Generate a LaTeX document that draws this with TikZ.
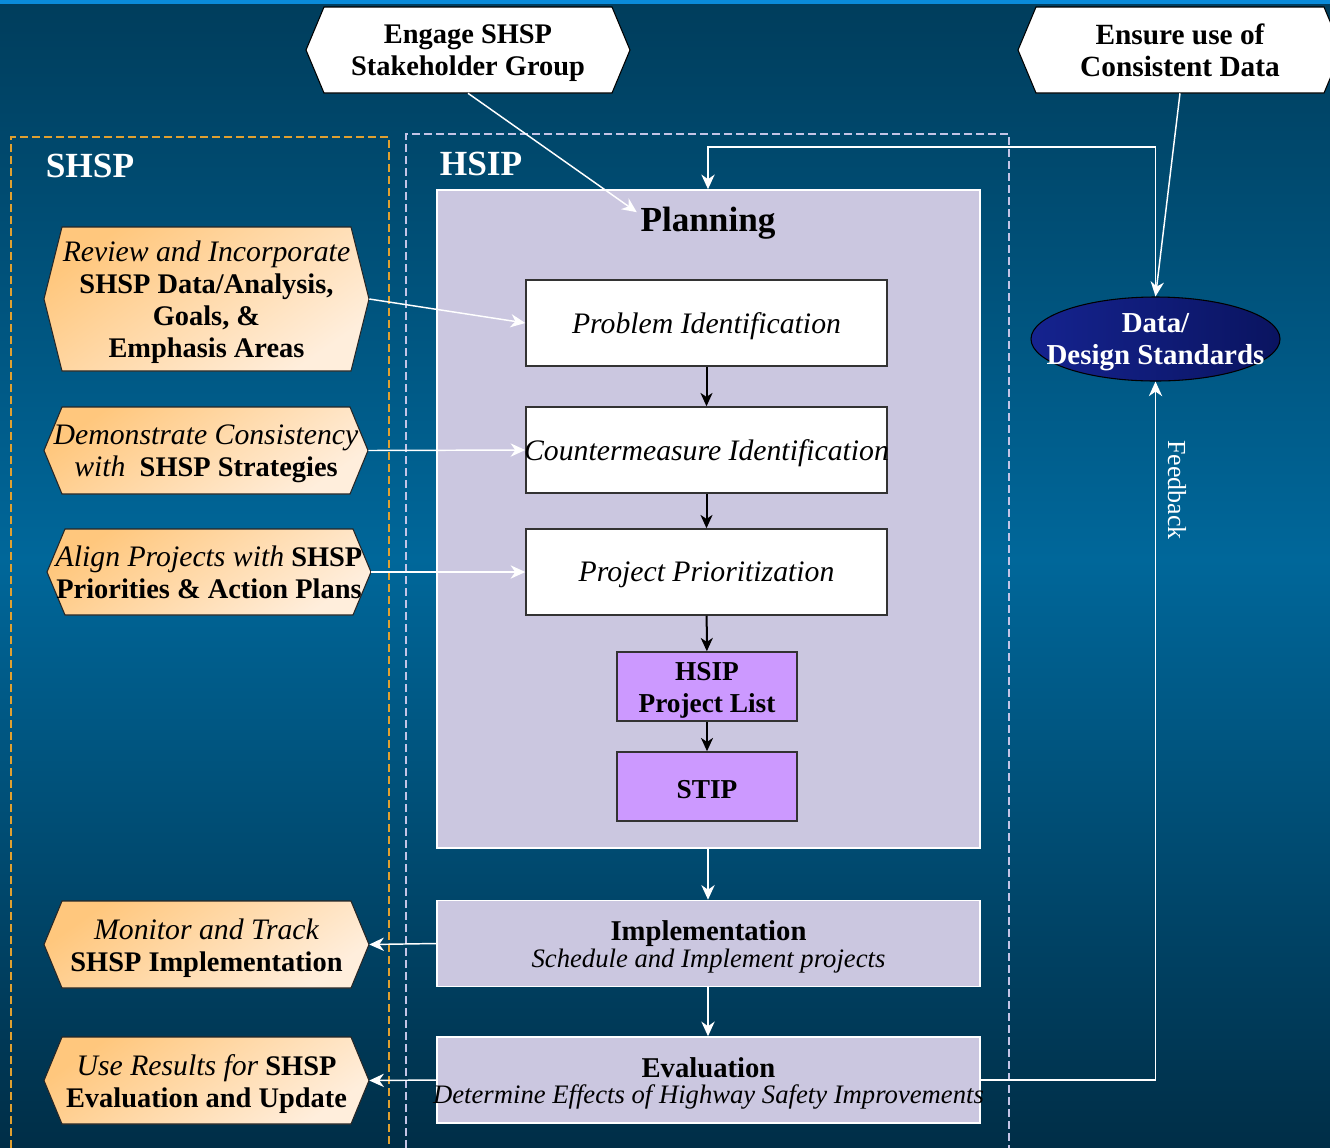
\documentclass[tikz,border=0pt]{standalone}
\usepackage{fontspec}
\setmainfont{Liberation Serif}
\usetikzlibrary{arrows.meta,shapes.geometric}

\definecolor{bgtop}{HTML}{003D5C}
\definecolor{bgmid}{HTML}{00679A}
\definecolor{bgbot}{HTML}{002E47}
\definecolor{topstrip}{HTML}{0A8BDA}
\definecolor{lav}{HTML}{CBC7E0}
\definecolor{purp}{HTML}{CC99FF}
\definecolor{orA}{HTML}{FFC77D}
\definecolor{orB}{HTML}{FFEEDC}
\definecolor{shspdash}{HTML}{E0A030}
\definecolor{hsipdash}{HTML}{C4C4E6}
\definecolor{navyA}{HTML}{15238F}
\definecolor{navyB}{HTML}{0A1460}

\newcommand\ita[1]{{\mdseries\itshape\fontsize{22.3}{24}\selectfont #1}}
\newcommand\subfont{\fontsize{20}{20}\selectfont\itshape}
% hexagon: name, x1, y1, x2, y2, style, font size, text
\newcommand\hexa[8]{%
  \shadedraw[#6] (#2,{(#3+#5)/2}) -- ({#2+18},#3) -- ({#4-18},#3) -- (#4,{(#3+#5)/2}) -- ({#4-18},#5) -- ({#2+18},#5) -- cycle;
  \node[hexgeom, minimum width={(#4-#2)*0.75pt}, minimum height={(#5-#3)*0.75pt}] (#1) at ({(#2+#4)/2},{(#3+#5)/2}) {};
  \node[hextext, font=\fontsize{#7}{24}\selectfont\bfseries] (#1-t) at ([yshift=-2.6pt]#1.center) {#8};}

\tikzset{
  warrow/.style={draw=white, line width=1.1pt, -{Stealth[length=11pt,width=10pt,inset=3.5pt]}},
  barrow/.style={draw=black, line width=1.5pt, -{Stealth[length=10pt,width=9pt,inset=3pt]}},
  orhex/.style={draw=black!85, line width=0.8pt, top color=orA, bottom color=orB, shading angle=35},
  whhex/.style={draw=black, line width=0.8pt, top color=white, bottom color=white},
  hexgeom/.style={shape=rectangle, inner sep=0pt},
  hextext/.style={shape=rectangle, inner sep=0pt, align=center},
  planbox/.style={fill=lav, draw=white, line width=1.2pt, inner sep=0pt},
  stepbox/.style={fill=white, draw=black!80, line width=1.1pt, inner sep=0pt,
    minimum width=361*0.75pt, minimum height=86*0.75pt},
  steptext/.style={inner sep=0pt, font=\fontsize{22.3}{24}\selectfont\itshape},
  purpbox/.style={fill=purp, draw=black!80, line width=1.1pt, inner sep=0pt,
    minimum width=180*0.75pt, minimum height=69*0.75pt},
  purptext/.style={inner sep=0pt, align=center, font=\fontsize{20.5}{24}\selectfont\bfseries},
  phasebox/.style={fill=lav, draw=white, line width=1.2pt, inner sep=0pt,
    minimum width=543*0.75pt, minimum height=86*0.75pt},
  phasetext/.style={inner sep=0pt, align=center, font=\fontsize{21.5}{20}\selectfont},
  grouplabel/.style={text=white, font=\fontsize{26.5}{28}\selectfont\bfseries},
}

\begin{document}
\begin{tikzpicture}[x=0.75pt,y=-0.75pt]
\useasboundingbox (0,0) rectangle (1330,1147);
\clip (0,0) rectangle (1330,1147);

% background
\shade[top color=bgtop, bottom color=bgmid] (0,0) rectangle (1330,560);
\shade[top color=bgmid, bottom color=bgbot] (0,559) rectangle (1330,1147);
\fill[topstrip] (0,0) rectangle (1330,4);

% group frames
\draw[shspdash, line width=0.9pt, dash pattern=on 6pt off 3pt] (11,1160) -- (11,137) -- (389,137) -- (389,1160);
\draw[hsipdash, line width=0.9pt, dash pattern=on 6pt off 3pt] (406,1160) -- (406,134) -- (1009,134) -- (1009,1160);
\node[grouplabel] (shsplab) at (90,166) {SHSP};
\node[grouplabel] (hsiplab) at (481,164) {HSIP};

% planning
\node[planbox, minimum width=543*0.75pt, minimum height=658*0.75pt] (plan) at (708.5,519) {};
\node[font=\fontsize{26.4}{28}\selectfont\bfseries] (plantitle) at (708,223) {Planning};

\node[stepbox] (probid) at (706.5,323) {};
\node[steptext] (probid-t) at ([yshift=-2.3pt]probid.center) {Problem Identification};
\node[stepbox] (countid) at (706.5,450) {};
\node[steptext] (countid-t) at ([yshift=-2.3pt]countid.center) {Countermeasure Identification};
\node[stepbox] (prior) at (706.5,572) {};
\node[steptext] (prior-t) at ([yshift=-2.3pt]prior.center) {Project Prioritization};

\node[purpbox] (plist) at (707,686.5) {};
\node[purptext] (plist-t) at ([yshift=-2.6pt]plist.center) {HSIP\\Project List};
\node[purpbox] (stip) at (707,786.5) {};
\node[purptext] (stip-t) at ([yshift=-2pt]stip.center) {STIP};

\node[phasebox] (impl) at (708.5,943.5) {};
\node[phasetext] (impl-t) at ([yshift=-2.6pt]impl.center) {\textbf{Implementation}\\{\subfont Schedule and Implement projects}};
\node[phasebox] (eval) at (708.5,1080) {};
\node[phasetext] (eval-t) at ([yshift=-2.6pt]eval.center) {\textbf{Evaluation}\\{\subfont Determine Effects of Highway Safety Improvements}};

% hexagons
\hexa{engage}{306}{7}{630}{93}{whhex}{21.3}{Engage SHSP\\Stakeholder Group}
\hexa{ensure}{1018}{7}{1342}{93}{whhex}{22}{Ensure use of\\Consistent Data\vphantom{p}}
\hexa{review}{44}{227}{369}{371}{orhex}{21.3}{\ita{Review and Incorporate}\\SHSP Data/Analysis,\\Goals, \&\\Emphasis Areas}
\hexa{demo}{44}{407}{368}{494}{orhex}{21.3}{\ita{Demonstrate Consistency}\\\ita{with}\ \ SHSP Strategies}
\hexa{align}{47}{529}{371}{615}{orhex}{21.3}{\ita{Align Projects with} SHSP\\Priorities \& Action Plans\vphantom{p}}
\hexa{monitor}{44}{901}{369}{988}{orhex}{21.3}{\ita{Monitor and Track}\\SHSP Implementation}
\hexa{useres}{44}{1037}{369}{1124}{orhex}{21.3}{\ita{Use Results for} SHSP\\Evaluation and Update}

% data ellipse
\node[ellipse, draw=black, line width=0.8pt, left color=navyA, right color=navyB,
      minimum width=249*0.75pt, minimum height=84*0.75pt, inner sep=0pt] (data) at (1155.5,339) {};
\node[text=white, inner sep=0pt, align=center, font=\fontsize{21.7}{24}\selectfont\bfseries] (datatext) at ([yshift=-2.6pt]data.center) {Data/\\Design Standards};

% black connectors
\draw[barrow] (probid) -- (countid);
\draw[barrow] (countid) -- (prior);
\draw[barrow] (prior) -- (plist);
\draw[barrow] (plist) -- (stip);

% white connectors
\draw[warrow] (plan.south -| plantitle) -- (impl.north -| plantitle);
\draw[warrow] (impl.south -| plantitle) -- (eval.north -| plantitle);
\draw[warrow] (engage.south) -- ([xshift=0.75pt,yshift=-7.5pt]plantitle.north west);
\draw[warrow] (ensure.south) -- (data.north);
\coordinate (loop) at (1155.5,147);
\draw[warrow] (data.north) -- (loop) -| (plantitle.north |- plan.north);
\draw[warrow] (eval.east) -| (data.south);
\node[text=white, rotate=-90, font=\fontsize{19.5}{20}\selectfont] (fb) at (1177,490) {Feedback};

\draw[warrow] (review.east) -- (probid.west);
\draw[warrow] (demo.east) -- (countid.west);
\draw[warrow] (align.east) -- (prior.west);
\draw[warrow] (impl.west) -- (monitor.east);
\draw[warrow] (eval.west) -- (useres.east);
\end{tikzpicture}
\end{document}
